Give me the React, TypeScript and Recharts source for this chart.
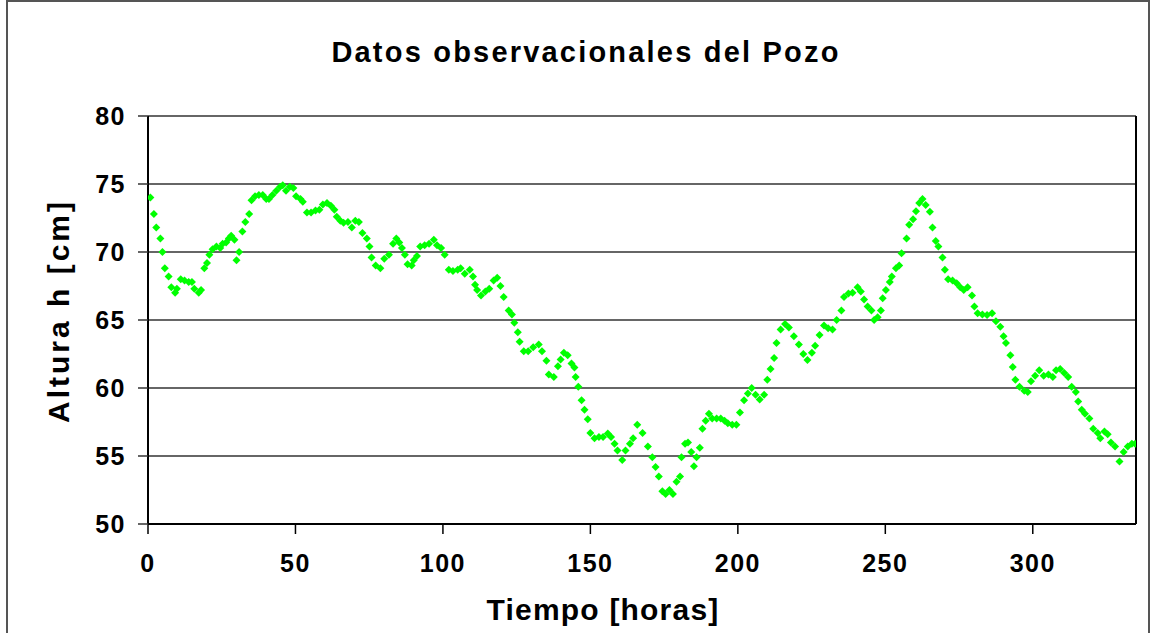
import React from "react";
import {
  ScatterChart,
  Scatter,
  XAxis,
  YAxis,
  CartesianGrid,
  ReferenceLine,
} from "recharts";

const title = "Datos observacionales del Pozo";
const xLabel = "Tiempo [horas]";
const yLabel = "Altura h [cm]";

const xTicks = [0, 50, 100, 150, 200, 250, 300];
const yTicks = [50, 55, 60, 65, 70, 75, 80];

const times = [
  0.8, 2.0, 2.8, 4.2, 4.9, 5.7, 7.0, 7.9, 9.2, 9.8, 11.1, 12.4, 13.8, 14.9, 15.7, 17.2, 18.0, 19.1, 20.0, 20.8,
  21.9, 23.2, 24.5, 25.3, 26.5, 27.4, 28.2, 29.3, 30.0, 30.9, 32.0, 33.0, 34.3, 35.1, 36.3, 37.6, 38.9, 40.1, 41.0, 42.2,
  43.5, 44.8, 45.7, 46.8, 48.1, 49.3, 50.2, 51.7, 52.5, 53.9, 55.3, 56.8, 58.1, 59.3, 60.7, 62.0, 63.2, 64.0, 65.2, 66.3,
  67.8, 69.1, 70.3, 71.5, 72.7, 74.2, 75.1, 75.8, 77.2, 78.8, 80.1, 81.7, 83.1, 84.2, 85.2, 86.1, 87.1, 88.0, 89.4, 90.1,
  91.2, 92.3, 93.8, 95.3, 96.9, 98.0, 99.4, 100.6, 102.0, 103.4, 105.0, 106.0, 107.4, 109.1, 110.2, 110.9, 111.6, 112.9, 114.4, 115.7,
  117.2, 118.4, 119.5, 120.6, 122.3, 123.4, 124.2, 125.4, 126.0, 127.4, 128.9, 130.6, 132.5, 133.6, 135.1, 135.9, 137.6, 139.0, 139.9, 141.0,
  142.3, 143.6, 144.6, 145.0, 145.9, 147.0, 148.0, 149.1, 150.0, 151.4, 152.9, 154.3, 155.9, 157.0, 158.2, 159.2, 160.8, 161.9, 163.4, 164.5,
  165.9, 167.7, 169.5, 171.0, 172.1, 173.2, 174.4, 175.5, 176.8, 178.0, 179.2, 180.4, 180.9, 182.1, 183.1, 184.2, 185.1, 186.0, 187.1, 188.0,
  189.1, 190.2, 191.3, 192.8, 194.2, 195.5, 196.6, 198.1, 199.5, 200.7, 202.1, 203.4, 204.7, 206.0, 207.4, 208.9, 210.0, 211.1, 212.3, 213.1,
  214.5, 216.0, 217.3, 219.0, 220.7, 222.2, 223.6, 225.1, 226.2, 227.7, 229.2, 230.6, 232.1, 233.5, 235.1, 236.0, 237.5, 238.9, 240.6, 241.7,
  242.8, 244.0, 245.3, 246.2, 247.4, 248.5, 249.1, 250.2, 251.5, 252.2, 253.6, 254.7, 255.5, 257.2, 258.1, 259.4, 260.4, 261.5, 262.6, 263.7,
  265.1, 266.0, 267.1, 268.0, 269.4, 270.2, 271.3, 272.8, 274.2, 275.4, 276.6, 277.9, 279.4, 280.2, 281.3, 282.9, 284.5, 286.2, 287.5, 289.0,
  290.1, 290.9, 292.4, 293.2, 294.1, 295.5, 297.1, 298.3, 299.4, 300.8, 302.2, 303.7, 305.3, 306.8, 307.9, 309.3, 310.7, 312.0, 313.2, 314.6,
  315.4, 316.6, 317.7, 319.2, 320.5, 322.0, 322.9, 324.3, 325.4, 326.5, 327.9, 329.4, 330.8, 332.2, 333.6, 334.7,
];

const heights = [
  74.0, 72.8, 71.8, 71.0, 70.0, 68.8, 68.2, 67.4, 67.0, 67.3, 68.0, 67.9, 67.8, 67.8, 67.3, 67.0, 67.2, 68.8, 69.2, 69.8,
  70.2, 70.4, 70.3, 70.6, 70.7, 71.0, 71.2, 70.9, 69.4, 70.0, 71.5, 72.2, 72.8, 73.8, 74.1, 74.2, 74.2, 73.9, 73.9, 74.2,
  74.5, 74.8, 74.9, 74.5, 74.8, 74.7, 74.1, 73.9, 73.7, 72.9, 72.9, 73.05, 73.1, 73.5, 73.6, 73.4, 73.1, 72.6, 72.3, 72.15,
  72.2, 71.8, 72.3, 72.2, 71.4, 71.0, 70.4, 69.6, 69.0, 68.8, 69.5, 69.8, 70.6, 71.0, 70.7, 70.3, 69.8, 69.1, 69.0, 69.4,
  69.7, 70.4, 70.5, 70.6, 70.9, 70.5, 70.3, 69.8, 68.7, 68.6, 68.7, 68.8, 68.4, 68.7, 68.2, 67.6, 67.2, 66.8, 67.1, 67.3,
  67.9, 68.1, 67.5, 66.7, 65.7, 65.4, 64.8, 64.1, 63.4, 62.7, 62.7, 63.0, 63.2, 62.7, 62.0, 61.0, 60.8, 61.6, 62.1, 62.6,
  62.4, 61.8, 61.5, 60.8, 60.1, 59.1, 58.4, 57.7, 56.7, 56.3, 56.4, 56.4, 56.65, 56.4, 55.9, 55.4, 54.7, 55.4, 55.9, 56.3,
  57.3, 56.7, 55.7, 54.9, 54.2, 53.5, 52.4, 52.2, 52.5, 52.2, 53.1, 53.5, 54.9, 55.9, 56.0, 55.3, 54.25, 54.9, 55.6, 57.0,
  57.6, 58.1, 57.75, 57.75, 57.75, 57.6, 57.4, 57.3, 57.3, 58.2, 59.1, 59.6, 60.0, 59.5, 59.15, 59.5, 60.6, 61.4, 62.2, 63.3,
  64.3, 64.7, 64.45, 63.8, 63.2, 62.5, 62.05, 62.6, 63.1, 63.9, 64.6, 64.4, 64.3, 65.0, 65.7, 66.7, 66.95, 67.0, 67.4, 67.1,
  66.5, 66.0, 65.7, 65.0, 65.2, 65.7, 66.6, 67.2, 67.8, 68.2, 68.8, 69.0, 69.9, 71.0, 72.0, 72.4, 73.0, 73.6, 73.9, 73.45,
  72.96, 71.8, 70.8, 70.4, 69.6, 68.7, 68.0, 67.9, 67.7, 67.4, 67.2, 67.4, 66.8, 66.0, 65.5, 65.4, 65.36, 65.5, 64.9, 64.5,
  63.8, 63.3, 62.4, 61.55, 60.6, 60.1, 59.8, 59.7, 60.5, 60.9, 61.3, 60.9, 61.0, 60.8, 61.3, 61.4, 61.1, 60.8, 60.1, 59.7,
  59.0, 58.4, 58.1, 57.75, 57.0, 56.7, 56.3, 56.8, 56.6, 56.0, 55.7, 54.6, 55.3, 55.7, 55.9, 55.9,
];

const data = times.map((t, i) => ({ t, h: heights[i] }));

const FONT = '"Liberation Sans", Arial, sans-serif';

const Diamond = (props: any) => {
  const { cx, cy } = props;
  if (cx == null || cy == null) return null;
  const r = 4;
  return (
    <polygon
      points={`${cx},${cy - r} ${cx + r},${cy} ${cx},${cy + r} ${cx - r},${cy}`}
      fill="#00ff00"
    />
  );
};

const tickStyle = {
  fill: "#000",
  fontSize: 25,
  fontWeight: "bold",
  fontFamily: FONT,
  letterSpacing: 1.5,
};

export default function App() {
  return (
    <div
      style={{
        position: "absolute",
        left: 0,
        top: 0,
        width: 1158,
        height: 633,
        background: "#fff",
        overflow: "hidden",
        fontFamily: FONT,
      }}
    >
      <div
        style={{
          position: "absolute",
          left: 6,
          top: 0,
          width: 1144,
          height: 660,
          border: "2px solid #555",
          boxSizing: "border-box",
        }}
      />
      <div
        style={{
          position: "absolute",
          left: 0,
          width: 1172,
          top: 36,
          textAlign: "center",
          fontSize: 29,
          letterSpacing: 2.2,
          fontWeight: "bold",
          color: "#000",
        }}
      >
        {title}
      </div>
      <div
        style={{
          position: "absolute",
          left: 603 - 200,
          width: 400,
          top: 593,
          textAlign: "center",
          fontSize: 30,
          letterSpacing: 1.2,
          fontWeight: "bold",
          color: "#000",
        }}
      >
        {xLabel}
      </div>
      <div
        style={{
          position: "absolute",
          left: 59 - 150,
          top: 311 - 18,
          width: 300,
          height: 36,
          lineHeight: "36px",
          textAlign: "center",
          fontSize: 30,
          letterSpacing: 3,
          fontWeight: "bold",
          color: "#000",
          transform: "rotate(-90deg)",
        }}
      >
        {yLabel}
      </div>
      <div style={{ position: "absolute", left: 0, top: 0 }}>
        <ScatterChart
          width={1158}
          height={633}
          margin={{ top: 116, right: 22, bottom: 59, left: 88 }}
        >
          <CartesianGrid horizontal={true} vertical={false} stroke="#333" strokeWidth={1.5} />
          <XAxis
            type="number"
            dataKey="t"
            domain={[0, 335]}
            ticks={xTicks}
            height={50}
            tickSize={10}
            tickMargin={20}
            axisLine={{ stroke: "#000", strokeWidth: 2 }}
            tickLine={{ stroke: "#000", strokeWidth: 1.5 }}
            tick={tickStyle}
            allowDataOverflow
          />
          <YAxis
            type="number"
            dataKey="h"
            domain={[50, 80]}
            ticks={yTicks}
            width={60}
            tickSize={10}
            tickMargin={12}
            axisLine={{ stroke: "#000", strokeWidth: 2 }}
            tickLine={{ stroke: "#333", strokeWidth: 1.5 }}
            tick={tickStyle}
            allowDataOverflow
          />
          <ReferenceLine x={335} stroke="#000" strokeWidth={2} />
          <Scatter data={data} shape={<Diamond />} isAnimationActive={false} />
        </ScatterChart>
      </div>
    </div>
  );
}
